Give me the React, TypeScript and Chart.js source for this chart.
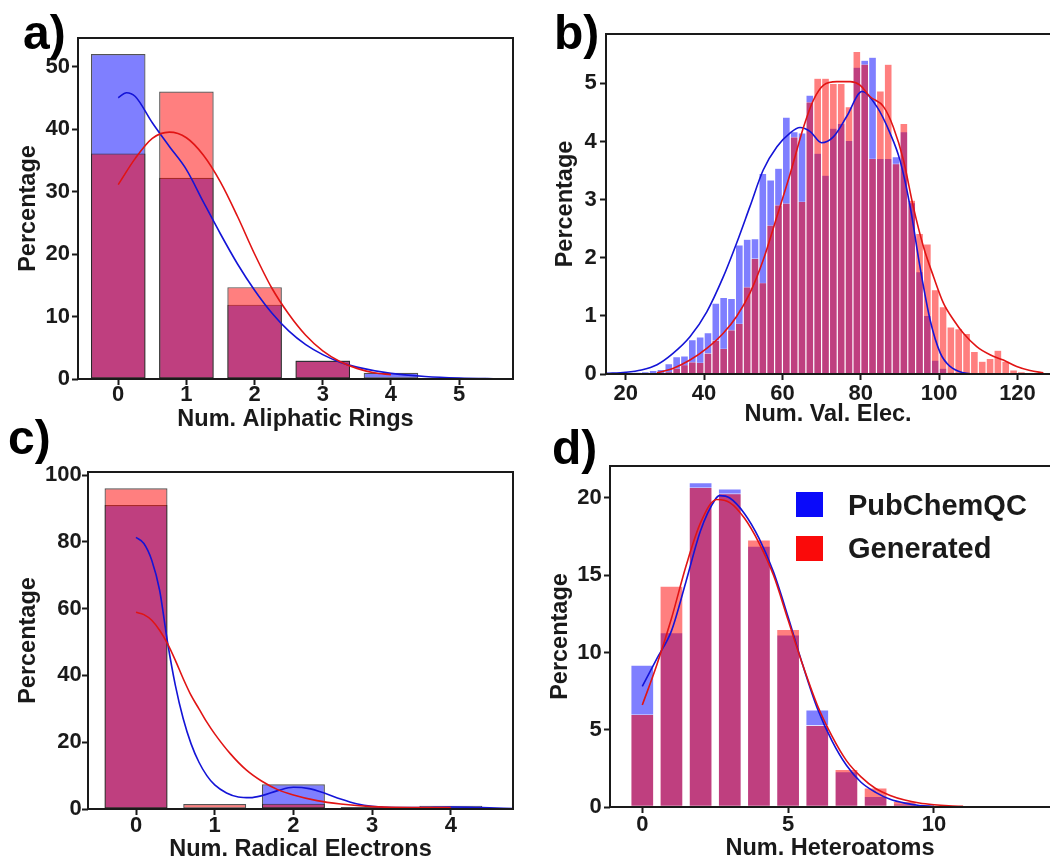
import React, { useEffect, useRef } from "react";
import { Chart, registerables } from "chart.js";

Chart.register(...registerables);

const FONT = '"Liberation Sans", Arial, Helvetica, sans-serif';
const INK = "#1a1a1a";
const BLUE_FILL = "rgba(0, 0, 255, 0.5)";
const RED_FILL = "rgba(255, 0, 0, 0.5)";
const BLUE_LINE = "rgb(20, 20, 215)";
const RED_LINE = "rgb(225, 20, 20)";
const SERIES_NAMES = ["PubChemQC", "Generated"];
const Y_TITLE = "Percentage";

// ---------- a) Num. Aliphatic Rings ----------
const aRings = [0, 1, 2, 3, 4, 5];
const aPubChemQC = [52.0, 32.2, 11.9, 2.95, 1.0, 0.2];
const aGenerated = [36.1, 46.0, 14.7, 2.9, 0.1, 0.0];
const aKdePubX = [0, 0.12, 0.25, 0.5, 0.75, 1, 1.25, 1.5, 1.75, 2, 2.25, 2.5, 2.75, 3, 3.25, 3.5, 4, 4.5, 5, 5.5, 5.8];
const aKdePubY = [45.0, 45.8, 45.2, 41.0, 37.2, 33.5, 28.3, 23.2, 18.4, 14.2, 10.6, 7.7, 5.5, 3.9, 2.7, 1.9, 0.9, 0.4, 0.15, 0.05, 0.02];
const aKdeGenX = [0, 0.25, 0.5, 0.75, 1, 1.25, 1.5, 1.75, 2, 2.25, 2.5, 2.75, 3, 3.25, 3.5, 3.75, 4];
const aKdeGenY = [31.1, 35.3, 38.5, 39.5, 38.6, 35.8, 31.5, 26.0, 20.0, 14.6, 10.4, 7.0, 4.5, 2.8, 1.7, 1.0, 0.7];
const aXTicks = [0, 1, 2, 3, 4, 5];
const aYTicks = [0, 10, 20, 30, 40, 50];

// ---------- b) Num. Val. Elec. ----------
const bBins = [21, 23, 25, 27, 29, 31, 33, 35, 37, 39, 41, 43, 45, 47, 49, 51, 53, 55, 57, 59, 61, 63, 65, 67, 69, 71, 73, 75, 77, 79, 81, 83, 85, 87, 89, 91, 93, 95, 97, 99, 101, 103, 105, 107, 109, 111, 113, 115, 117, 119, 121, 123, 125];
const bPubChemQC = [0.01, 0.03, 0.04, 0.06, 0.08, 0.18, 0.30, 0.31, 0.59, 0.64, 0.71, 1.22, 1.32, 1.30, 2.22, 2.32, 2.33, 3.45, 3.34, 3.54, 4.42, 4.17, 4.15, 4.80, 3.80, 3.42, 4.23, 4.31, 4.02, 5.28, 5.40, 5.45, 3.71, 3.71, 3.74, 4.17, 2.95, 1.76, 1.01, 0.24, 0.10, 0.03, 0.01, 0, 0, 0, 0, 0, 0, 0, 0, 0, 0];
const bGenerated = [0, 0, 0, 0, 0.02, 0.04, 0.10, 0.16, 0.21, 0.20, 0.36, 0.58, 0.44, 0.76, 0.87, 1.50, 1.99, 1.57, 2.56, 2.91, 2.94, 4.08, 2.97, 4.68, 5.09, 5.09, 5.00, 5.00, 4.60, 5.55, 5.33, 3.71, 4.87, 5.33, 3.62, 4.31, 2.99, 2.42, 2.24, 1.45, 1.16, 0.81, 0.78, 0.70, 0.39, 0.22, 0.27, 0.41, 0.22, 0.07, 0.04, 0.02, 0.01];
const bKdePubX = [15, 20, 24, 28, 32, 36.4, 40.7, 44.9, 48.3, 51.7, 55.1, 58.6, 62, 64.5, 67.1, 70, 73, 76.4, 80.3, 84.1, 87.5, 90, 92.6, 95.1, 97.7, 100.3, 102.8, 106.2, 109];
const bKdePubY = [0.01, 0.03, 0.07, 0.16, 0.35, 0.64, 1.07, 1.67, 2.25, 2.88, 3.51, 3.91, 4.15, 4.24, 4.17, 3.98, 4.08, 4.43, 4.86, 4.60, 4.14, 3.68, 2.88, 1.85, 0.93, 0.36, 0.13, 0.02, 0.0];
const bKdeGenX = [28, 32.2, 36.4, 40.7, 44.9, 48.3, 51.7, 55.1, 58.6, 62, 65.4, 67.9, 70.5, 73.9, 77.3, 79.8, 82.4, 85.8, 88.3, 90.9, 93.4, 96, 98.6, 101.1, 103.7, 106.2, 109.6, 113, 116.4, 119.8, 123.2, 126.6];
const bKdeGenY = [0.02, 0.1, 0.24, 0.44, 0.70, 0.99, 1.39, 1.96, 2.71, 3.45, 4.25, 4.71, 4.97, 5.03, 5.03, 4.97, 4.77, 4.60, 4.25, 3.68, 2.88, 2.19, 1.67, 1.22, 0.93, 0.70, 0.47, 0.33, 0.24, 0.13, 0.06, 0.02];
const bXTicks = [20, 40, 60, 80, 100, 120];
const bYTicks = [0, 1, 2, 3, 4, 5];

// ---------- c) Num. Radical Electrons ----------
const cRadicals = [0, 1, 2, 3, 4];
const cPubChemQC = [91.0, 0.2, 7.4, 0.3, 1.0];
const cGenerated = [96.0, 1.5, 1.6, 0.6, 0.4];
const cKdePubX = [0, 0.1, 0.2, 0.3, 0.4, 0.5, 0.6, 0.7, 0.8, 0.9, 1.0, 1.15, 1.3, 1.45, 1.6, 1.8, 2.0, 2.2, 2.4, 2.6, 2.8, 3.0, 3.3, 3.6, 4.0, 4.4, 4.8];
const cKdePubY = [81.3, 79.5, 74.5, 65.5, 50.0, 37.0, 27.0, 19.5, 14.0, 10.0, 7.2, 4.8, 3.6, 3.4, 4.0, 5.5, 6.5, 6.1, 4.7, 3.0, 1.6, 0.8, 0.4, 0.4, 0.6, 0.4, 0.1];
const cKdeGenX = [0, 0.1, 0.2, 0.3, 0.4, 0.5, 0.6, 0.7, 0.8, 0.9, 1.0, 1.2, 1.4, 1.6, 1.8, 2.0, 2.3, 2.6, 3.0, 3.5, 4.0];
const cKdeGenY = [58.9, 58.2, 56.5, 53.5, 49.5, 44.5, 39.0, 34.0, 30.0, 26.0, 22.5, 16.5, 11.7, 8.3, 5.8, 4.2, 2.5, 1.5, 0.7, 0.4, 0.4];
const cXTicks = [0, 1, 2, 3, 4];
const cYTicks = [0, 20, 40, 60, 80, 100];

// ---------- d) Num. Heteroatoms ----------
const dHetero = [0, 1, 2, 3, 4, 5, 6, 7, 8, 9, 10];
const dPubChemQC = [9.2, 11.3, 21.0, 20.6, 16.9, 11.15, 6.3, 2.3, 0.7, 0.22, 0.05];
const dGenerated = [6.0, 14.3, 20.7, 20.3, 17.3, 11.5, 5.3, 2.45, 1.25, 0.37, 0.08];
const dKdePubX = [0, 0.5, 1, 1.5, 2, 2.5, 2.65, 3, 3.5, 4, 4.5, 5, 5.5, 6, 6.5, 7, 7.5, 8, 8.5, 9, 9.5, 10];
const dKdePubY = [7.8, 9.6, 11.4, 14.6, 17.9, 19.9, 20.15, 20.0, 19.0, 17.4, 15.2, 12.3, 9.2, 6.4, 4.3, 2.7, 1.6, 0.95, 0.5, 0.25, 0.1, 0.04];
const dKdeGenX = [0, 0.5, 1, 1.5, 2, 2.55, 3, 3.5, 4, 4.5, 5, 5.5, 6, 6.5, 7, 7.5, 8, 8.5, 9, 9.5, 10, 10.5, 11];
const dKdeGenY = [6.6, 9.2, 12.2, 15.6, 18.4, 19.9, 19.7, 18.7, 17.1, 15.0, 12.1, 9.2, 6.6, 4.6, 3.0, 1.95, 1.2, 0.75, 0.45, 0.26, 0.15, 0.08, 0.04];
const dXTicks = [0, 5, 10];
const dYTicks = [0, 5, 10, 15, 20];

type PanelSpec = {
  id: string;
  left: number; top: number; width: number; height: number;
  yAxisW: number; xAxisH: number; padTop: number; padRight: number;
  xMin: number; xMax: number; yMax: number;
  xTicks: number[]; yTicks: number[];
  xTitle: string;
  xTickPad: number; yTickPad: number; xTitlePad: number; yTitlePad: number;
  bins: number[]; pub: number[]; gen: number[];
  pubKdeX: number[]; pubKdeY: number[]; genKdeX: number[]; genKdeY: number[];
  barRatio: number; edge: string; edgeW: number; closed: boolean;
};

const PANELS: PanelSpec[] = [
  {
    id: "a", left: 0, top: 0, width: 530, height: 440,
    yAxisW: 78, xAxisH: 61, padTop: 38, padRight: 17,
    xMin: -0.59, xMax: 5.79, yMax: 54.56, xTicks: aXTicks, yTicks: aYTicks,
    xTitle: "Num. Aliphatic Rings",
    xTickPad: -1.2, yTickPad: 2, xTitlePad: 8.4, yTitlePad: 16.5,
    bins: aRings, pub: aPubChemQC, gen: aGenerated,
    pubKdeX: aKdePubX, pubKdeY: aKdePubY, genKdeX: aKdeGenX, genKdeY: aKdeGenY,
    barRatio: 0.8, edge: "rgba(25,25,25,0.75)", edgeW: 1.2, closed: true,
  },
  {
    id: "b", left: 530, top: 0, width: 520, height: 440,
    yAxisW: 76, xAxisH: 66, padTop: 34, padRight: 0,
    xMin: 14.97, xMax: 128.3, yMax: 5.85, xTicks: bXTicks, yTicks: bYTicks,
    xTitle: "Num. Val. Elec.",
    xTickPad: 3.0, yTickPad: 3.3, xTitlePad: 13.6, yTitlePad: 23.5,
    bins: bBins, pub: bPubChemQC, gen: bGenerated,
    pubKdeX: bKdePubX, pubKdeY: bKdePubY, genKdeX: bKdeGenX, genKdeY: bKdeGenY,
    barRatio: 1, edge: "rgba(255,255,255,0.7)", edgeW: 0.6, closed: false,
  },
  {
    id: "c", left: 0, top: 420, width: 530, height: 442,
    yAxisW: 88, xAxisH: 53, padTop: 52, padRight: 17,
    xMin: -0.61, xMax: 4.79, yMax: 100.9, xTicks: cXTicks, yTicks: cYTicks,
    xTitle: "Num. Radical Electrons",
    xTickPad: 0.3, yTickPad: 0.3, xTitlePad: 0.9, yTitlePad: 16.5,
    bins: cRadicals, pub: cPubChemQC, gen: cGenerated,
    pubKdeX: cKdePubX, pubKdeY: cKdePubY, genKdeX: cKdeGenX, genKdeY: cKdeGenY,
    barRatio: 0.8, edge: "rgba(25,25,25,0.75)", edgeW: 1.2, closed: true,
  },
  {
    id: "d", left: 530, top: 420, width: 520, height: 442,
    yAxisW: 80, xAxisH: 55, padTop: 46, padRight: 0,
    xMin: -1.107, xMax: 13.98, yMax: 22.07, xTicks: dXTicks, yTicks: dYTicks,
    xTitle: "Num. Heteroatoms",
    xTickPad: 0.7, yTickPad: 2.3, xTitlePad: 1.7, yTitlePad: 18.5,
    bins: dHetero, pub: dPubChemQC, gen: dGenerated,
    pubKdeX: dKdePubX, pubKdeY: dKdePubY, genKdeX: dKdeGenX, genKdeY: dKdeGenY,
    barRatio: 0.8, edge: "rgba(255,255,255,0.75)", edgeW: 0.8, closed: false,
  },
];

const framePlugin = {
  id: "frame",
  afterDraw(chart: any, _args: any, opts: any) {
    const { ctx, chartArea } = chart;
    const { left, top, right, bottom } = chartArea;
    ctx.save();
    ctx.strokeStyle = INK;
    ctx.lineWidth = 2;
    ctx.beginPath();
    if (opts.closed) {
      ctx.rect(left, top, right - left, bottom - top);
    } else {
      ctx.moveTo(right + 4, top);
      ctx.lineTo(left, top);
      ctx.lineTo(left, bottom);
      ctx.lineTo(right + 4, bottom);
    }
    ctx.stroke();
    ctx.restore();
  },
};

function buildConfig(p: PanelSpec): any {
  const tickFont = { family: FONT, size: 22, weight: "bold", lineHeight: 1 };
  const titleFont = { family: FONT, size: 23.5, weight: "bold", lineHeight: 1 };
  const grid = {
    display: true,
    drawOnChartArea: false,
    drawTicks: true,
    tickLength: 6,
    tickWidth: 2,
    tickColor: INK,
    offset: false,
  };
  const bar = (label: string, values: number[], fill: string, order: number) => ({
    type: "bar",
    label,
    data: p.bins.map((b, i) => ({ x: b, y: values[i] })),
    backgroundColor: fill,
    borderColor: p.edge,
    borderWidth: p.edgeW,
    borderSkipped: false,
    grouped: false,
    barPercentage: p.barRatio,
    categoryPercentage: 1,
    inflateAmount: 0,
    order,
  });
  const line = (label: string, xs: number[], ys: number[], color: string, order: number) => ({
    type: "line",
    label,
    data: xs.map((x, i) => ({ x, y: ys[i] })),
    borderColor: color,
    borderWidth: 1.6,
    pointRadius: 0,
    fill: false,
    cubicInterpolationMode: "monotone",
    order,
  });
  return {
    type: "bar",
    data: {
      datasets: [
        bar(SERIES_NAMES[0], p.pub, BLUE_FILL, 4),
        bar(SERIES_NAMES[1], p.gen, RED_FILL, 3),
        line(SERIES_NAMES[0] + " KDE", p.pubKdeX, p.pubKdeY, BLUE_LINE, 2),
        line(SERIES_NAMES[1] + " KDE", p.genKdeX, p.genKdeY, RED_LINE, 1),
      ],
    },
    options: {
      responsive: false,
      maintainAspectRatio: false,
      animation: false,
      devicePixelRatio: 1,
      events: [],
      layout: { padding: { left: 0, top: p.padTop, right: p.padRight, bottom: 0 } },
      plugins: {
        legend: { display: false },
        tooltip: { enabled: false },
        frame: { closed: p.closed },
      },
      scales: {
        x: {
          type: "linear",
          min: p.xMin,
          max: p.xMax,
          offset: false,
          grid,
          border: { display: false },
          ticks: {
            font: tickFont,
            color: INK,
            padding: p.xTickPad,
            maxRotation: 0,
            autoSkip: false,
            callback: (v: any) => String(v),
          },
          title: {
            display: true,
            text: p.xTitle,
            font: titleFont,
            color: INK,
            padding: { top: 0, bottom: p.xTitlePad },
          },
          afterBuildTicks: (s: any) => {
            s.ticks = p.xTicks.map((v) => ({ value: v }));
          },
          afterFit: (s: any) => {
            s.height = p.xAxisH;
          },
        },
        y: {
          type: "linear",
          min: 0,
          max: p.yMax,
          grid,
          border: { display: false },
          ticks: {
            font: tickFont,
            color: INK,
            padding: p.yTickPad,
            autoSkip: false,
            callback: (v: any) => String(v),
          },
          title: {
            display: true,
            text: Y_TITLE,
            font: titleFont,
            color: INK,
            padding: { top: p.yTitlePad, bottom: 0 },
          },
          afterBuildTicks: (s: any) => {
            s.ticks = p.yTicks.map((v) => ({ value: v }));
          },
          afterFit: (s: any) => {
            s.width = p.yAxisW;
          },
        },
      },
    },
    plugins: [framePlugin],
  };
}

function Panel({ spec }: { spec: PanelSpec }) {
  const ref = useRef<HTMLCanvasElement | null>(null);
  useEffect(() => {
    if (!ref.current) return;
    const chart = new Chart(ref.current, buildConfig(spec));
    return () => chart.destroy();
  }, [spec]);
  return (
    <canvas
      ref={ref}
      width={spec.width}
      height={spec.height}
      style={{ position: "absolute", left: spec.left, top: spec.top, width: spec.width, height: spec.height }}
    />
  );
}

const PANEL_LABELS = [
  { text: "a)", left: 23, top: 9.4 },
  { text: "b)", left: 554, top: 9.4 },
  { text: "c)", left: 8, top: 414.4 },
  { text: "d)", left: 552, top: 424.4 },
];

const LEGEND_ITEMS = [
  { text: SERIES_NAMES[0], color: "rgb(10,10,250)", boxTop: 492, textTop: 490.5 },
  { text: SERIES_NAMES[1], color: "rgb(250,10,10)", boxTop: 536, textTop: 533.8 },
];

export default function App() {
  return (
    <div
      style={{
        position: "absolute",
        left: 0,
        top: 0,
        width: 1050,
        height: 862,
        background: "#ffffff",
        overflow: "hidden",
        fontFamily: FONT,
      }}
    >
      {PANELS.map((p) => (
        <Panel key={p.id} spec={p} />
      ))}
      {PANEL_LABELS.map((l) => (
        <div
          key={l.text}
          style={{
            position: "absolute",
            left: l.left,
            top: l.top,
            fontSize: 48,
            lineHeight: "48px",
            fontWeight: "bold",
            color: "#000",
            whiteSpace: "nowrap",
          }}
        >
          {l.text}
        </div>
      ))}
      {LEGEND_ITEMS.map((it) => (
        <React.Fragment key={it.text}>
          <div
            style={{
              position: "absolute",
              left: 796,
              top: it.boxTop,
              width: 27,
              height: 25,
              background: it.color,
            }}
          />
          <div
            style={{
              position: "absolute",
              left: 848,
              top: it.textTop,
              fontSize: 29,
              lineHeight: "29px",
              fontWeight: "bold",
              color: INK,
              whiteSpace: "nowrap",
            }}
          >
            {it.text}
          </div>
        </React.Fragment>
      ))}
    </div>
  );
}
